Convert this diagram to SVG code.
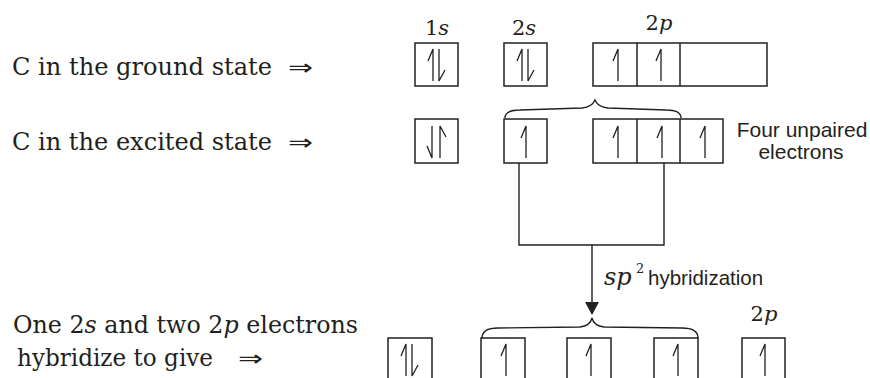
<svg xmlns="http://www.w3.org/2000/svg" width="870" height="378" viewBox="0 0 870 378">
  <style>
    .box { fill: none; stroke: #231f20; stroke-width: 1.5; }
    .ar { fill: none; stroke: #231f20; stroke-width: 1.3; stroke-linejoin: miter; }
    .ln { fill: none; stroke: #231f20; stroke-width: 1.4; }
    .serif { font-family: "DejaVu Serif", "Liberation Serif", serif; fill: #231f20; }
    .sans { font-family: "Liberation Sans", Arial, sans-serif; fill: #231f20; }
    .sym { font-family: "DejaVu Sans", sans-serif; fill: #231f20; }
    .it { font-style: italic; }
  </style>
  <defs>
    <path id="up" class="ar" d="M0,16 V-16 L-5,-4"/>
    <path id="dn" class="ar" d="M0,-16 V16 L6,5"/>
    <path id="dnL" class="ar" d="M0,-16 V16 L-5,4"/>
    <path id="upR" class="ar" d="M0,16 V-16 L6,-5"/>
  </defs>
  <rect width="870" height="378" fill="#ffffff"/>

  <g id="labels">
    <text class="serif" x="12" y="75" font-size="23.5" textLength="260" lengthAdjust="spacingAndGlyphs">C in the ground state</text>
    <text class="sym" x="288" y="75" font-size="22" textLength="25" lengthAdjust="spacingAndGlyphs">⇒</text>
    <text class="serif" x="12" y="150" font-size="23.5" textLength="260" lengthAdjust="spacingAndGlyphs">C in the excited state</text>
    <text class="sym" x="288" y="150" font-size="22" textLength="25" lengthAdjust="spacingAndGlyphs">⇒</text>
    <text class="serif" x="13" y="333" font-size="23.5" textLength="345" lengthAdjust="spacingAndGlyphs">One 2<tspan class="it">s</tspan> and two 2<tspan class="it">p</tspan> electrons</text>
    <text class="serif" x="17" y="366" font-size="23.5" textLength="196" lengthAdjust="spacingAndGlyphs">hybridize to give</text>
    <text class="sym" x="238" y="366" font-size="22" textLength="25" lengthAdjust="spacingAndGlyphs">⇒</text>
  </g>

  <g id="ground">
    <text class="serif" x="437" y="35" font-size="21" text-anchor="middle">1<tspan class="it">s</tspan></text>
    <text class="serif" x="524" y="35" font-size="21" text-anchor="middle">2<tspan class="it">s</tspan></text>
    <text class="serif" x="659" y="30" font-size="21" text-anchor="middle">2<tspan class="it">p</tspan></text>
    <rect class="box" x="415" y="43" width="43" height="43"/>
    <use href="#up" x="433" y="65"/>
    <use href="#dn" x="439" y="65"/>
    <rect class="box" x="504" y="43" width="43" height="43"/>
    <use href="#up" x="522" y="65"/>
    <use href="#dn" x="528" y="65"/>
    <rect class="box" x="593" y="43" width="174" height="43"/>
    <line class="box" x1="637" y1="43" x2="637" y2="86"/>
    <line class="box" x1="680" y1="43" x2="680" y2="86"/>
    <use href="#up" x="618" y="65"/>
    <use href="#up" x="661" y="65"/>
  </g>

  <g id="excited">
    <rect class="box" x="415" y="119" width="43" height="44"/>
    <use href="#dnL" x="432" y="142"/>
    <use href="#upR" x="440" y="142"/>
    <rect class="box" x="504" y="119" width="43" height="44"/>
    <use href="#up" x="526" y="142"/>
    <rect class="box" x="593" y="119" width="130" height="44"/>
    <line class="box" x1="637" y1="119" x2="637" y2="163"/>
    <line class="box" x1="680" y1="119" x2="680" y2="163"/>
    <use href="#up" x="618" y="142"/>
    <use href="#up" x="662" y="142"/>
    <use href="#up" x="705" y="142"/>
    <path class="ln" d="M505,118 Q505,110 520,110 L582,108 Q592,107 595,100 Q598,107 608,108 L666,110 Q681,110 681,118"/>
    <text class="sans" x="802" y="137" font-size="21" text-anchor="middle">Four unpaired</text>
    <text class="sans" x="801" y="159" font-size="21" text-anchor="middle">electrons</text>
  </g>

  <g id="connectors">
    <path class="ln" d="M519,163 V245 H664 V163"/>
    <line class="ln" x1="592" y1="245" x2="592" y2="303"/>
    <polygon points="585,302 599,302 592,315" fill="#231f20"/>
    <text class="serif it" x="604" y="285" font-size="24">sp</text>
    <text class="serif" x="636" y="273" font-size="13">2</text>
    <text class="sans" x="648" y="285" font-size="20.5">hybridization</text>
  </g>

  <g id="hybrid">
    <path class="ln" d="M482,338 Q482,328 498,328 L580,327 Q590,326 592,318 Q594,326 604,327 L682,328 Q698,328 698,338"/>
    <rect class="box" x="388" y="338" width="44" height="60"/>
    <use href="#up" x="406" y="360"/>
    <use href="#dn" x="412" y="360"/>
    <rect class="box" x="481" y="338" width="44" height="60"/>
    <use href="#up" x="506" y="360"/>
    <rect class="box" x="567" y="338" width="44" height="60"/>
    <use href="#up" x="591" y="360"/>
    <rect class="box" x="654" y="338" width="44" height="60"/>
    <use href="#up" x="678" y="360"/>
    <rect class="box" x="742" y="338" width="43" height="60"/>
    <use href="#up" x="765" y="360"/>
    <text class="serif" x="764" y="321" font-size="21" text-anchor="middle">2<tspan class="it">p</tspan></text>
  </g>
</svg>
